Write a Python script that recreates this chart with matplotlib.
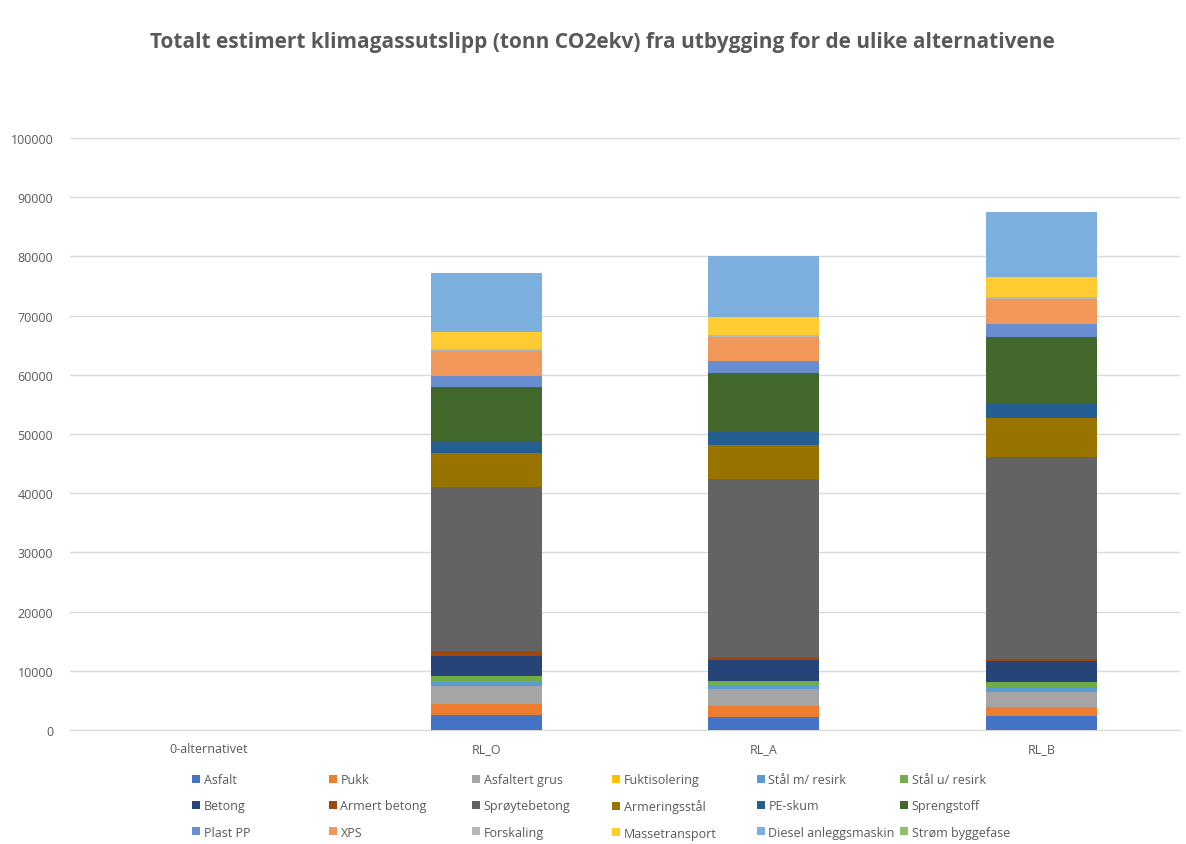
import numpy as np
import matplotlib.pyplot as plt
from matplotlib.patches import Patch

# kategorier og verdier (tonn CO2ekv), lest av figuren
alternativer = ['0-alternativet', 'RL_O', 'RL_A', 'RL_B']

asfalt = [0, 2480, 2250, 2330]
pukk = [0, 1970, 1810, 1570]
asfaltert_grus = [0, 2970, 2820, 2570]
fuktisolering = [0, 0, 0, 0]
staal_m_resirk = [0, 620, 620, 700]
staal_u_resirk = [0, 1020, 790, 990]
betong = [0, 3430, 3440, 3440]
armert_betong = [0, 790, 620, 400]
sproytebetong = [0, 27740, 30040, 34100]
armeringsstaal = [0, 5680, 5810, 6640]
pe_skum = [0, 1970, 2190, 2390]
sprengstoff = [0, 9290, 9930, 11250]
plast_pp = [0, 1800, 1970, 2210]
xps = [0, 4310, 4150, 4270]
forskaling = [0, 250, 250, 250]
massetransport = [0, 2870, 3100, 3400]
diesel = [0, 10070, 10260, 11000]
strom_byggefase = [0, 0, 0, 0]

serier = [
    ('Asfalt', asfalt, '#4472C4'),
    ('Pukk', pukk, '#ED7D31'),
    ('Asfaltert grus', asfaltert_grus, '#A5A5A5'),
    ('Fuktisolering', fuktisolering, '#FFC000'),
    ('Stål m/ resirk', staal_m_resirk, '#5B9BD5'),
    ('Stål u/ resirk', staal_u_resirk, '#70AD47'),
    ('Betong', betong, '#264478'),
    ('Armert betong', armert_betong, '#9E480E'),
    ('Sprøytebetong', sproytebetong, '#636363'),
    ('Armeringsstål', armeringsstaal, '#997300'),
    ('PE-skum', pe_skum, '#255E91'),
    ('Sprengstoff', sprengstoff, '#43682B'),
    ('Plast PP', plast_pp, '#698ED0'),
    ('XPS', xps, '#F1975A'),
    ('Forskaling', forskaling, '#B7B7B7'),
    ('Massetransport', massetransport, '#FFCD33'),
    ('Diesel anleggsmaskin', diesel, '#7CAFDD'),
    ('Strøm byggefase', strom_byggefase, '#8CC168'),
]

plt.rcParams['font.family'] = ['Open Sans', 'DejaVu Sans']
tekstfarge = '#595959'

fig = plt.figure(figsize=(11.86, 8.45), dpi=100)
ax = fig.add_axes([0.059, 0.135, 0.936, 0.7006])

x = np.arange(len(alternativer))
bunn = np.zeros(len(alternativer))
handles = []
for navn, verdier, farge in serier:
    ax.bar(x, verdier, 0.4, bottom=bunn, color=farge, zorder=3)
    bunn += np.array(verdier)
    handles.append(Patch(facecolor=farge, label=navn))

ax.set_xlim(-0.5, 3.5)
ax.set_ylim(0, 100000)
ax.set_yticks(np.arange(0, 100001, 10000))
ax.set_xticks(x)
ax.set_xticklabels(alternativer)
ax.tick_params(axis='both', length=0, labelsize=9, colors=tekstfarge)
ax.tick_params(axis='x', pad=9)
ax.tick_params(axis='y', pad=12)
ax.grid(axis='y', color='#D9D9D9', linewidth=1, zorder=0)
for s in ['top', 'right', 'left']:
    ax.spines[s].set_visible(False)
ax.spines['bottom'].set_color('#D9D9D9')

fig.text(0.508, 0.95, 'Totalt estimert klimagassutslipp (tonn CO2ekv) fra utbygging for de ulike alternativene',
         ha='center', va='center', fontsize=15, fontweight='bold', color=tekstfarge)

# legende: en kolonne per legend-objekt slik at kolonnene får fast avstand
kolonne_x = [186, 323, 466, 606, 751, 894]
for c, px in enumerate(kolonne_x):
    h = [handles[r * 6 + c] for r in range(3)]
    leg = fig.legend(h, [hh.get_label() for hh in h], ncol=1, loc='upper left',
                     bbox_to_anchor=(px / 1186, 0.091), frameon=False, borderpad=0,
                     fontsize=9, labelcolor=tekstfarge, handlelength=0.6, handleheight=0.6,
                     handletextpad=0.3, labelspacing=1.05)

fig.savefig('out.png', dpi=100)
